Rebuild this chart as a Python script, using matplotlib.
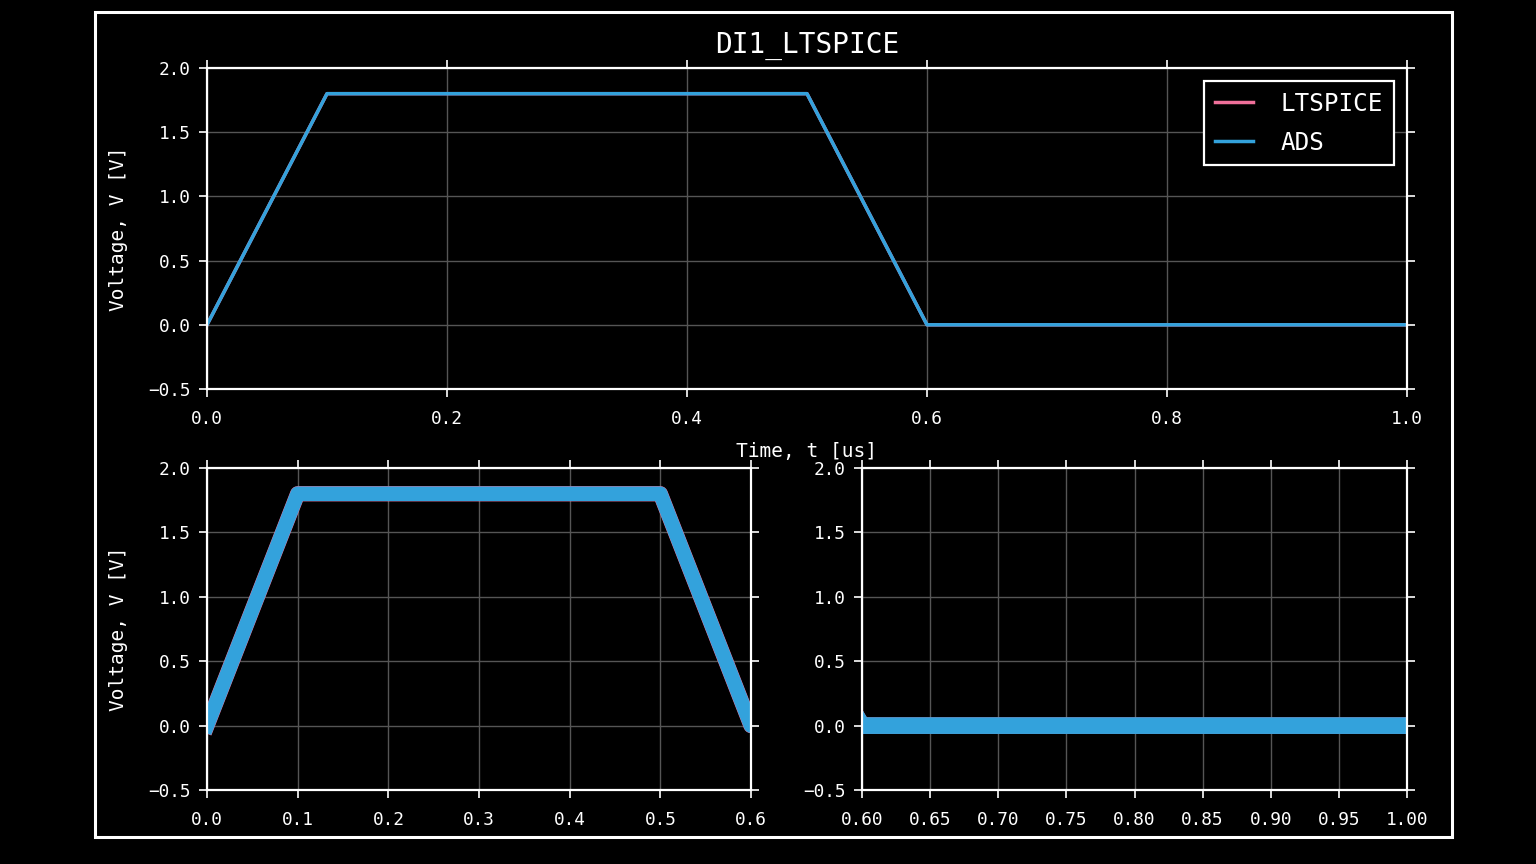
#!/usr/bin/env python3
"""Recreate the DI1_LTSPICE transient comparison plot (LTSPICE vs ADS)."""
import matplotlib
matplotlib.use("Agg")
import matplotlib.pyplot as plt
from matplotlib.patches import Rectangle

# piecewise-linear trapezoid (time in us, volts)
t_us = [0.0, 0.1, 0.5, 0.6, 1.0]
v_ltspice = [0.0, 1.8, 1.8, 0.0, 0.0]
v_ads = [0.0, 1.8, 1.8, 0.0, 0.0]

top_xticks = [0.0, 0.2, 0.4, 0.6, 0.8, 1.0]
left_xticks = [0.0, 0.1, 0.2, 0.3, 0.4, 0.5, 0.6]
right_xticks = [0.60, 0.65, 0.70, 0.75, 0.80, 0.85, 0.90, 0.95, 1.00]
yticks = [-0.5, 0.0, 0.5, 1.0, 1.5, 2.0]

PINK = "#f0709a"
BLUE = "#33a2dc"
FONT = "DejaVu Sans Mono"

plt.rcParams["font.family"] = FONT
plt.rcParams["text.color"] = "white"


def style(ax, xticks, fmt):
    ax.set_facecolor("black")
    for s in ax.spines.values():
        s.set_color("white")
        s.set_linewidth(1.6)
    ax.set_xticks(xticks)
    ax.set_xticklabels([fmt.format(x) for x in xticks])
    ax.set_yticks(yticks)
    ax.set_ylim(-0.5, 2.0)
    ax.tick_params(direction="out", length=6, width=1.2, colors="white",
                   labelsize=12.8, top=True, right=True, pad=6)
    ax.tick_params(axis="x", pad=9)
    ax.grid(color="#555555", linewidth=1.0)
    ax.set_axisbelow(True)


fig = plt.figure(figsize=(15.36, 8.64), dpi=100, facecolor="black")
fig.patches.append(Rectangle((95 / 1536, 1 - 837 / 864), 1357 / 1536, 825 / 864,
                             transform=fig.transFigure, fill=False,
                             edgecolor="white", linewidth=2.2))

ax_top = fig.add_axes([207 / 1536, 1 - 389 / 864, 1200 / 1536, 321 / 864])
ax_bl = fig.add_axes([207 / 1536, 1 - 790 / 864, 544 / 1536, 322 / 864])
ax_br = fig.add_axes([862 / 1536, 1 - 790 / 864, 545 / 1536, 322 / 864])

# full run
ax_top.plot(t_us, v_ltspice, color=PINK, linewidth=2.5, label="LTSPICE")
ax_top.plot(t_us, v_ads, color=BLUE, linewidth=2.5, label="ADS")
ax_top.set_xlim(0, 1.0)
style(ax_top, top_xticks, "{:.1f}")
ax_top.set_title("DI1_LTSPICE", fontsize=20, color="white", pad=11)
ax_top.set_xlabel("Time, t [us]", fontsize=14, color="white", labelpad=10)
ax_top.set_ylabel("Voltage, V [V]", fontsize=14, color="white", labelpad=14)
leg = ax_top.legend(loc="upper right", fontsize=17.5, fancybox=False,
                    facecolor="black", edgecolor="white", framealpha=1,
                    handlelength=1.55, handletextpad=1.15, borderpad=0.45,
                    labelspacing=0.6, borderaxespad=0,
                    bbox_to_anchor=(1 - 13 / 1200, 1 - 13 / 321))
leg.get_frame().set_linewidth(1.6)
for txt in leg.get_texts():
    txt.set_color("white")

# pulse window
ax_bl.plot(t_us, v_ltspice, color=PINK, linewidth=11)
ax_bl.plot(t_us, v_ads, color=BLUE, linewidth=10.5)
ax_bl.set_xlim(0, 0.6)
style(ax_bl, left_xticks, "{:.1f}")
ax_bl.set_ylabel("Voltage, V [V]", fontsize=14, color="white", labelpad=14)

# tail window
ax_br.plot(t_us, v_ltspice, color=PINK, linewidth=12)
ax_br.plot(t_us, v_ads, color=BLUE, linewidth=12)
ax_br.set_xlim(0.6, 1.0)
style(ax_br, right_xticks, "{:.2f}")

fig.savefig("out.png", dpi=100, facecolor="black")
